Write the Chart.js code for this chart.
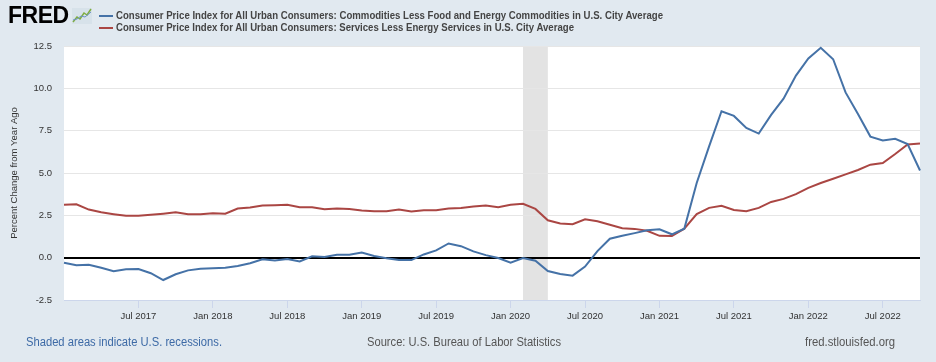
<!DOCTYPE html>
<html>
<head>
<meta charset="utf-8">
<script src="https://cdn.jsdelivr.net/npm/chart.js@4.4.0/dist/chart.umd.min.js"></script>
<style>
  html, body { margin: 0; padding: 0; }
  body { width: 936px; height: 362px; background: #e1e9f0; position: relative; overflow: hidden;
         font-family: 'Liberation Sans', Arial, sans-serif; }
  #chart { position: absolute; left: 0; top: 0; }
  .fit { position: absolute; white-space: nowrap; transform-origin: 0 50%; }
  .logo { position: absolute; left: 8px; top: 2px; font-weight: bold; font-size: 23px; letter-spacing: -0.5px; color: #000; }
  .icon { position: absolute; left: 72px; top: 8px; }
  .dash { position: absolute; left: 99px; width: 14px; height: 2px; }
  .leg { left: 116px; font-size: 11px; font-weight: bold; color: #444; }
  .foot { top: 335px; font-size: 12px; }
</style>
</head>
<body>
<canvas id="chart" width="936" height="362"></canvas>

<div class="logo">FRED</div>
<svg class="icon" width="20" height="16" viewBox="0 0 20 16">
  <rect x="0" y="0" width="20" height="16" fill="#d7e2ea"/>
  <polyline points="1,14 5,9 8,11 12,5 15,7 19,1" fill="none" stroke="#7fae3f" stroke-width="1.5"/>
  <polyline points="1,12 5,11 9,8 13,9 19,4" fill="none" stroke="#6d93c4" stroke-width="1"/>
</svg>

<div class="dash" style="top:15px;background:#4572a7"></div>
<div class="dash" style="top:27px;background:#aa4643"></div>
<span class="fit leg" data-w="547" style="top:9px">Consumer Price Index for All Urban Consumers: Commodities Less Food and Energy Commodities in U.S. City Average</span>
<span class="fit leg" data-w="458" style="top:21px">Consumer Price Index for All Urban Consumers: Services Less Energy Services in U.S. City Average</span>

<span class="fit foot" data-w="196" style="left:26px;color:#3d6aa6">Shaded areas indicate U.S. recessions.</span>
<span class="fit foot" data-w="194" style="left:367px;color:#555">Source: U.S. Bureau of Labor Statistics</span>
<span class="fit foot" data-w="90" style="left:805px;color:#555">fred.stlouisfed.org</span>

<script>
// monthly, Jan 2017 - Oct 2022
const startYear = 2017;
const monthCount = 70;
const monthNames = ['Jan','Feb','Mar','Apr','May','Jun','Jul','Aug','Sep','Oct','Nov','Dec'];

const commodities = [
  -0.30, -0.45, -0.42, -0.60, -0.80, -0.69, -0.67, -0.92, -1.32, -0.98, -0.75, -0.65,
  -0.63, -0.60, -0.49, -0.33, -0.10, -0.16, -0.08, -0.22, 0.08, 0.04, 0.17, 0.17,
  0.30, 0.10, -0.04, -0.14, -0.14, 0.19, 0.43, 0.84, 0.68, 0.37, 0.15, -0.02,
  -0.30, -0.02, -0.18, -0.79, -0.96, -1.06, -0.53, 0.39, 1.12, 1.29, 1.45, 1.62,
  1.68, 1.38, 1.71, 4.41, 6.57, 8.65, 8.37, 7.66, 7.33, 8.43, 9.39, 10.75,
  11.76, 12.39, 11.72, 9.76, 8.49, 7.15, 6.92, 7.02, 6.71, 5.15
];
const services = [
  3.13, 3.15, 2.84, 2.68, 2.57, 2.47, 2.47, 2.53, 2.60, 2.68, 2.57, 2.57,
  2.62, 2.60, 2.90, 2.96, 3.08, 3.10, 3.13, 2.98, 2.98, 2.86, 2.90, 2.88,
  2.79, 2.74, 2.74, 2.84, 2.72, 2.80, 2.80, 2.90, 2.94, 3.02, 3.08, 2.98,
  3.12, 3.18, 2.88, 2.21, 2.02, 1.98, 2.27, 2.15, 1.94, 1.74, 1.70, 1.59,
  1.29, 1.28, 1.71, 2.57, 2.94, 3.06, 2.82, 2.74, 2.94, 3.29, 3.47, 3.75,
  4.12, 4.41, 4.66, 4.92, 5.18, 5.49, 5.59, 6.12, 6.68, 6.74
];
const yTicks = [-2.5, 0, 2.5, 5, 7.5, 10, 12.5];
// recession Feb 2020 - Apr 2020
const recession = ['2020-02', '2020-04'];

let months = [];
for (let i = 0; i < monthCount; i++) {
  let y = startYear + Math.floor(i / 12);
  let m = i % 12;
  months.push(y + '-' + String(m + 1).padStart(2, '0'));
}

// 좁은 폰트 있으면 사용
function hasFont(name) {
  const c = document.createElement('canvas').getContext('2d');
  c.font = '20px monospace';
  const w1 = c.measureText('abcdefghijklmnop').width;
  c.font = '20px "' + name + '", monospace';
  return c.measureText('abcdefghijklmnop').width !== w1;
}
const narrow = hasFont('Liberation Sans Narrow');
const axisFont = narrow ? { family: '"Liberation Sans Narrow"', size: 11 } : { family: '"Liberation Sans", Arial', size: 9.5 };

function tickLabel(i) {
  let m = i % 12;
  if (i === 0) return '';
  if (m === 0 || m === 6) return monthNames[m] + ' ' + (startYear + Math.floor(i / 12));
  return '';
}

const plotBg = {
  id: 'plotBg',
  beforeDraw(chart) {
    const {ctx, chartArea: a, scales: {x}} = chart;
    ctx.save();
    ctx.fillStyle = '#fff';
    ctx.fillRect(a.left, a.top, a.right - a.left, a.bottom - a.top);
    let x1 = x.getPixelForValue(months.indexOf(recession[0]));
    let x2 = x.getPixelForValue(months.indexOf(recession[1]));
    ctx.fillStyle = '#e3e3e3';
    ctx.fillRect(x1, a.top, x2 - x1, a.bottom - a.top);
    ctx.restore();
  }
};

new Chart(document.getElementById('chart'), {
  type: 'line',
  data: {
    labels: months,
    datasets: [
      { label: 'Commodities', data: commodities, borderColor: '#4572a7', borderWidth: 2, pointRadius: 0, tension: 0 },
      { label: 'Services', data: services, borderColor: '#aa4643', borderWidth: 2, pointRadius: 0, tension: 0 }
    ]
  },
  options: {
    responsive: false,
    animation: false,
    layout: { padding: { top: 46, right: 16, left: 0, bottom: 0 } },
    plugins: { legend: { display: false }, tooltip: { enabled: false } },
    scales: {
      x: {
        afterFit: (s) => { s.height = 62; },
        border: { display: true, color: '#ccd6eb' },
        grid: {
          drawOnChartArea: false,
          drawTicks: true,
          tickLength: 8,
          tickColor: (c) => tickLabel(c.index) ? '#ccd6eb' : 'rgba(0,0,0,0)'
        },
        ticks: {
          autoSkip: false,
          maxRotation: 0,
          padding: 3,
          color: '#333',
          font: axisFont,
          callback: (v, i) => tickLabel(i)
        }
      },
      y: {
        min: -2.5,
        max: 12.5,
        afterFit: (s) => { s.width = 64; },
        afterBuildTicks: (s) => { s.ticks = yTicks.map(v => ({ value: v })); },
        border: { display: false },
        grid: {
          drawTicks: false,
          color: (c) => c.tick.value === 0 ? '#000' : '#e6e6e6',
          lineWidth: (c) => c.tick.value === 0 ? 2 : 1
        },
        ticks: {
          padding: 12,
          color: '#333',
          font: axisFont,
          callback: (v) => v.toFixed(1)
        },
        title: {
          display: true,
          text: 'Percent Change from Year Ago',
          color: '#333',
          font: axisFont,
          padding: { top: 9, bottom: 0 }
        }
      }
    }
  },
  plugins: [plotBg]
});

// 텍스트 폭 맞춤
document.querySelectorAll('.fit').forEach(el => {
  let w = el.getBoundingClientRect().width;
  el.style.transform = 'scaleX(' + (el.dataset.w / w) + ')';
});
</script>
</body>
</html>
